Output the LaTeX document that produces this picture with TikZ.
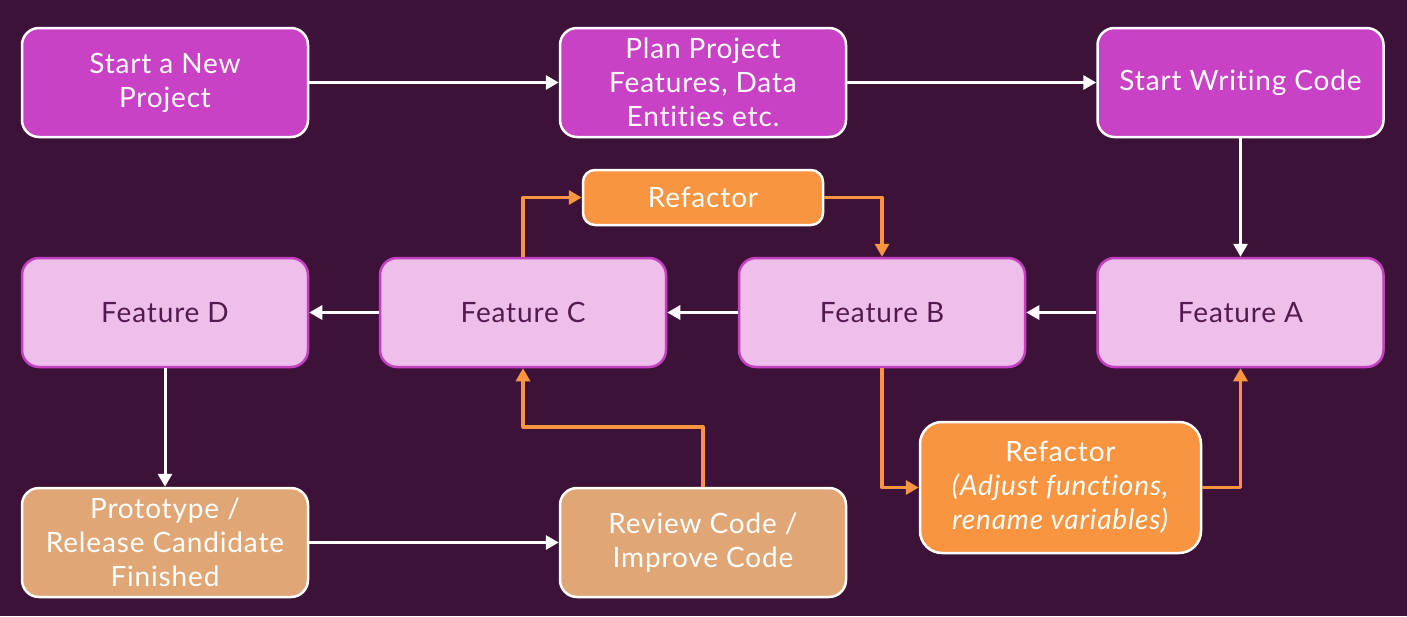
\documentclass[tikz,border=0pt]{standalone}
\usepackage{fontspec}
\setmainfont{Lato}[Ligatures=NoCommon, LetterSpace=3]
\usetikzlibrary{arrows.meta}
\definecolor{bgpurple}{HTML}{3D1239}
\definecolor{magentabox}{HTML}{C941C5}
\definecolor{pinkbox}{HTML}{EDBFEA}
\definecolor{pinkline}{HTML}{C53FC1}
\definecolor{darktext}{HTML}{521A4E}
\definecolor{orangebox}{HTML}{F99441}
\definecolor{tanbox}{HTML}{E0A676}
\begin{document}
\begin{tikzpicture}[x=1pt, y=-1pt, line join=round,
    box/.style={rounded corners=17pt, line width=2.5pt, minimum width=286pt, minimum height=109pt,
        align=center, inner sep=0pt, font=\fontsize{28}{34}\selectfont},
    planbox/.style={box, draw=white, fill=magentabox, text=white},
    featbox/.style={box, draw=pinkline, fill=pinkbox, text=darktext},
    donebox/.style={box, draw=white, fill=tanbox, text=white},
    refbox/.style={box, draw=white, fill=orangebox, text=white},
    flow/.style={draw=white, line width=3pt, -{Triangle[length=13pt, width=14pt]}},
    loop/.style={draw=orangebox, line width=3.5pt, -{Triangle[length=13pt, width=14pt]}}]
    \useasboundingbox[fill=bgpurple] (0,0) rectangle (1407,616);
    % top row
    \node[planbox] (start) at (165,82.5) {Start a New\\Project};
    \node[planbox] (plan) at (703,82.5) {Plan Project\\Features, Data\\Entities etc.};
    \node[planbox] (write) at (1240.5,82.5) {Start Writing Code};
    % features
    \node[featbox] (featA) at (1240.5,312.5) {Feature A};
    \node[featbox] (featB) at (882,312.5) {Feature B};
    \node[featbox] (featC) at (523,312.5) {Feature C};
    \node[featbox] (featD) at (165,312.5) {Feature D};
    % refactoring
    \node[refbox, minimum width=240pt, minimum height=55pt, rounded corners=12pt] (reftop) at (703,197.5) {Refactor};
    \node[refbox, minimum width=281pt, minimum height=131pt, rounded corners=22pt] (refbot) at (1060.5,487.5)
        {Refactor\\\textit{(Adjust functions,}\\\textit{rename variables)}};
    % bottom row
    \node[donebox] (proto) at (165,542.5) {Prototype /\\Release Candidate\\Finished};
    \node[donebox] (review) at (703,542.5) {Review Code /\\Improve Code};
    % main flow
    \draw[flow] (start) -- (plan);
    \draw[flow] (plan) -- (write);
    \draw[flow] (write) -- (featA);
    \foreach \from/\to in {featA/featB, featB/featC, featC/featD}
        \draw[flow] (\from) -- (\to);
    \draw[flow] (featD) -- (proto);
    \draw[flow] (proto) -- (review);
    % refactor loops
    \draw[loop] (featC.north) |- (reftop.west);
    \draw[loop] (reftop.east) -| (featB.north);
    \draw[loop] (featB.south) |- (refbot.west);
    \draw[loop] (refbot.east) -| (featA.south);
    \draw[loop] (review.north) -- ++(0,-60) -| (featC.south);
\end{tikzpicture}
\end{document}
